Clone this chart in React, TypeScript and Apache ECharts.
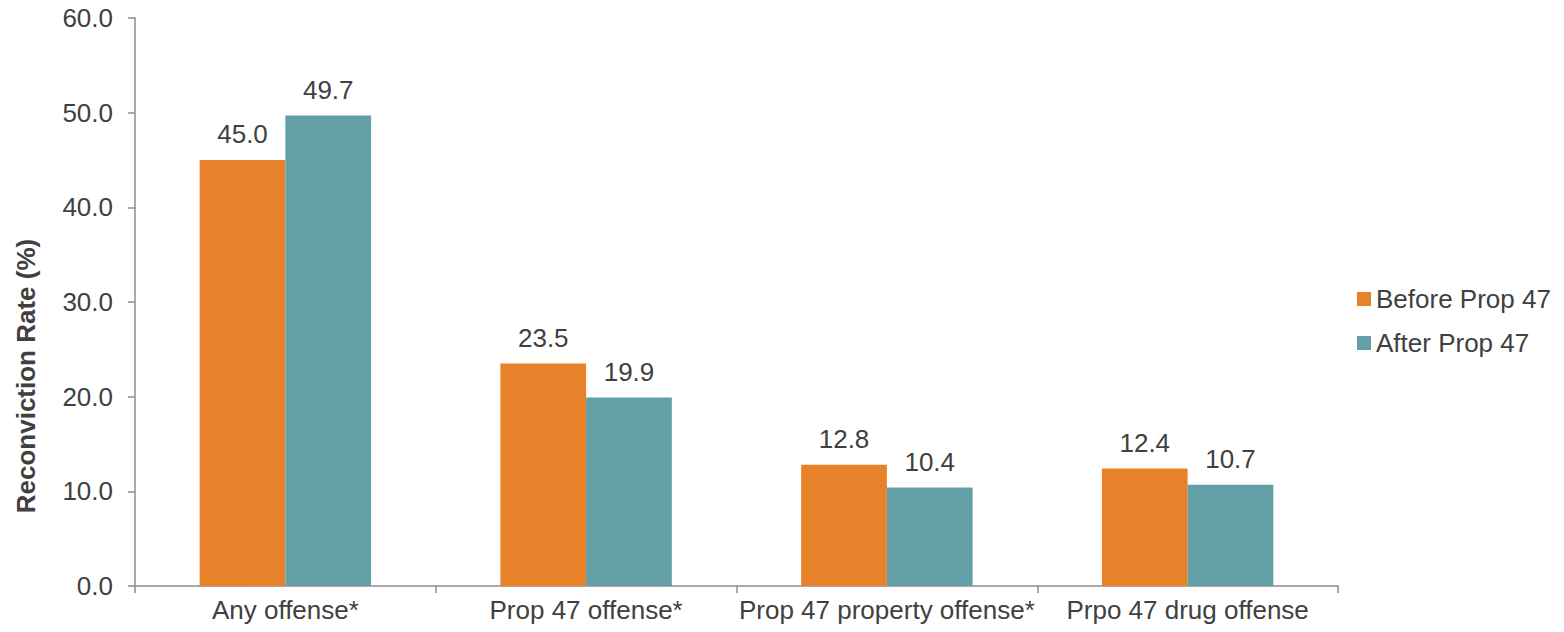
import React, { useEffect, useRef } from "react";
import * as echarts from "echarts";

const categories = ["Any offense*", "Prop 47 offense*", "Prop 47 property offense*", "Prpo 47 drug offense"];
const beforeValues = [45.0, 23.5, 12.8, 12.4];
const afterValues = [49.7, 19.9, 10.4, 10.7];
const seriesNames = ["Before Prop 47", "After Prop 47"];
const yAxisTitle = "Reconviction Rate (%)";

const FONT = "Liberation Sans, Arial, sans-serif";
const TXT = "#404040";
const AXIS = "#8c8c8c";
const FS = 26;

export default function App() {
  const ref = useRef<HTMLDivElement>(null);
  useEffect(() => {
    const chart = echarts.init(ref.current!, null, { renderer: "svg" });
    const label = {
      show: true,
      position: "top" as const,
      distance: 13,
      color: TXT,
      fontSize: FS,
      fontFamily: FONT,
      formatter: (p: any) => Number(p.value).toFixed(1),
    };
    chart.setOption({
      animation: false,
      backgroundColor: "#ffffff",
      textStyle: { fontFamily: FONT },
      grid: { left: 135, right: 226, top: 18, bottom: 46, containLabel: false },
      graphic: [
        {
          type: "text",
          x: 26,
          y: 376,
          rotation: Math.PI / 2,
          style: {
            text: yAxisTitle,
            fill: TXT,
            fontSize: FS,
            fontWeight: "bold",
            fontFamily: FONT,
            align: "center",
            verticalAlign: "middle",
          },
        },
      ],
      legend: {
        orient: "vertical",
        left: 1352,
        top: 281,
        itemWidth: 14,
        itemHeight: 14,
        itemGap: 18,
        icon: "rect",
        textStyle: { color: TXT, fontSize: FS, fontFamily: FONT, padding: [0, 0, 0, 0] },
        data: seriesNames,
      },
      xAxis: {
        type: "category",
        data: categories,
        axisLine: { lineStyle: { color: AXIS, width: 1.5 } },
        axisTick: { show: true, length: 7, lineStyle: { color: AXIS, width: 1.5 } },
        axisLabel: { color: TXT, fontSize: FS, fontFamily: FONT, margin: 11, interval: 0 },
      },
      yAxis: {
        type: "value",
        min: 0,
        max: 60,
        interval: 10,
        axisLine: { show: true, lineStyle: { color: AXIS, width: 1.5 } },
        axisTick: { show: true, length: 7, lineStyle: { color: AXIS, width: 1.5 } },
        splitLine: { show: false },
        axisLabel: {
          color: TXT,
          fontSize: FS,
          fontFamily: FONT,
          margin: 22,
          formatter: (v: number) => v.toFixed(1),
        },
      },
      series: [
        {
          name: seriesNames[0],
          type: "bar",
          data: beforeValues,
          barGap: "0%",
          barCategoryGap: "43%",
          itemStyle: { color: "#E8822A" },
          label,
        },
        {
          name: seriesNames[1],
          type: "bar",
          data: afterValues,
          barGap: "0%",
          barCategoryGap: "43%",
          itemStyle: { color: "#639FA6" },
          label,
        },
      ],
    });
    return () => chart.dispose();
  }, []);
  return <div ref={ref} style={{ width: 1564, height: 632, margin: -8 }} />;
}
